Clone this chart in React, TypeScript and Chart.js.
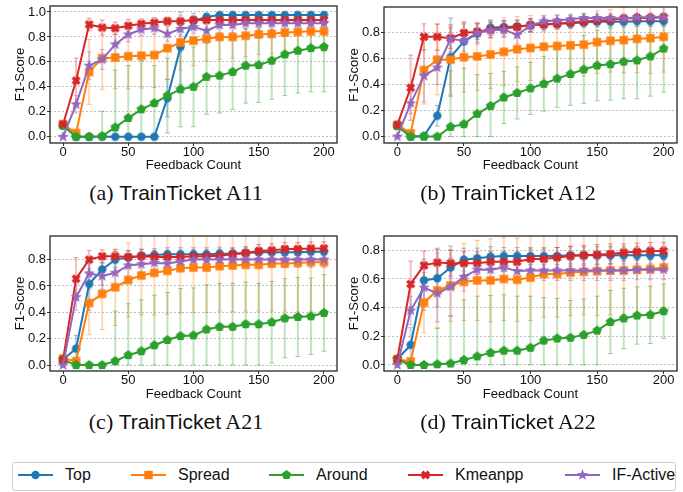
import React, { useEffect, useRef } from 'react';
import { Chart, registerables } from 'chart.js';

Chart.register(...registerables);
Chart.defaults.font.family = "'Liberation Sans', Arial, sans-serif";

// ---------------- data ----------------
const feedbackCounts = [0, 10, 20, 30, 40, 50, 60, 70, 80, 90, 100, 110, 120, 130, 140, 150, 160, 170, 180, 190, 200];
const xTickValues = [0, 50, 100, 150, 200];
const yTicksFull = [0, 0.2, 0.4, 0.6, 0.8, 1.0];
const yTicksShort = [0, 0.2, 0.4, 0.6, 0.8];

const seriesNames = ['Top', 'Spread', 'Around', 'Kmeanpp', 'IF-Active'];
const seriesColors = ['#1f77b4', '#ff7f0e', '#2ca02c', '#d62728', '#9467bd'];
const markerShapes = ['circle', 'square', 'pentagon', 'x', 'star'];

// A11
const a11Top = [0.09, 0.0, 0.0, 0.0, 0.0, 0.0, 0.0, 0.0, 0.31, 0.72, 0.93, 0.96, 0.975, 0.975, 0.975, 0.975, 0.975, 0.975, 0.975, 0.975, 0.975];
const a11Spread = [0.1, 0.03, 0.52, 0.63, 0.635, 0.645, 0.65, 0.655, 0.71, 0.755, 0.77, 0.785, 0.8, 0.8, 0.81, 0.82, 0.825, 0.835, 0.84, 0.845, 0.845];
const a11Around = [0.09, 0.0, 0.0, 0.005, 0.075, 0.15, 0.22, 0.27, 0.33, 0.38, 0.4, 0.48, 0.49, 0.52, 0.57, 0.575, 0.61, 0.66, 0.69, 0.71, 0.72];
const a11Kmeanpp = [0.1, 0.45, 0.9, 0.875, 0.87, 0.89, 0.905, 0.915, 0.925, 0.925, 0.935, 0.935, 0.935, 0.935, 0.935, 0.935, 0.935, 0.935, 0.935, 0.935, 0.935];
const a11IFActive = [0.0, 0.26, 0.57, 0.62, 0.74, 0.82, 0.86, 0.87, 0.825, 0.865, 0.88, 0.85, 0.895, 0.895, 0.91, 0.91, 0.91, 0.91, 0.91, 0.91, 0.91];
const a11TopErr = [0, 0, 0, 0, 0, 0, 0, 0, 0.15, 0.3, 0.06, 0.03, 0.02, 0.02, 0.02, 0.02, 0.02, 0.02, 0.02, 0.02, 0.02];
const a11SpreadErr = [0, 0.02, 0.26, 0.25, 0.25, 0.26, 0.26, 0.26, 0.25, 0.22, 0.2, 0.18, 0.18, 0.17, 0.17, 0.16, 0.16, 0.16, 0.16, 0.16, 0.16];
const a11AroundErr = [0, 0, 0, 0.2, 0.46, 0.42, 0.39, 0.3, 0.3, 0.3, 0.32, 0.3, 0.3, 0.3, 0.3, 0.3, 0.31, 0.33, 0.34, 0.35, 0.36];
const a11KmeanppErr = [0, 0.18, 0.05, 0.06, 0.05, 0.05, 0.04, 0.04, 0.03, 0.03, 0.03, 0.03, 0.03, 0.03, 0.03, 0.03, 0.03, 0.03, 0.03, 0.03, 0.03];
const a11IFActiveErr = [0, 0.07, 0.11, 0.08, 0.08, 0.06, 0.05, 0.05, 0.06, 0.05, 0.05, 0.1, 0.06, 0.06, 0.05, 0.05, 0.05, 0.05, 0.05, 0.05, 0.05];

// A12
const a12Top = [0.09, 0.0, 0.005, 0.16, 0.61, 0.73, 0.79, 0.835, 0.84, 0.845, 0.855, 0.86, 0.865, 0.87, 0.875, 0.88, 0.88, 0.88, 0.885, 0.885, 0.885];
const a12Spread = [0.09, 0.025, 0.51, 0.59, 0.59, 0.61, 0.615, 0.63, 0.65, 0.67, 0.68, 0.69, 0.695, 0.7, 0.705, 0.725, 0.735, 0.74, 0.75, 0.755, 0.765];
const a12Around = [0.08, 0.0, 0.0, 0.0, 0.075, 0.095, 0.175, 0.235, 0.3, 0.335, 0.37, 0.405, 0.445, 0.48, 0.515, 0.545, 0.555, 0.575, 0.585, 0.615, 0.675];
const a12Kmeanpp = [0.09, 0.375, 0.765, 0.765, 0.755, 0.795, 0.805, 0.82, 0.83, 0.84, 0.855, 0.86, 0.865, 0.875, 0.88, 0.89, 0.895, 0.905, 0.91, 0.91, 0.915];
const a12IFActive = [0.0, 0.255, 0.465, 0.53, 0.75, 0.735, 0.795, 0.815, 0.82, 0.78, 0.85, 0.885, 0.89, 0.9, 0.91, 0.91, 0.91, 0.905, 0.915, 0.915, 0.915];
const a12TopErr = [0, 0, 0.01, 0.08, 0.3, 0.15, 0.08, 0.06, 0.05, 0.05, 0.05, 0.05, 0.04, 0.04, 0.04, 0.04, 0.04, 0.04, 0.04, 0.04, 0.04];
const a12SpreadErr = [0, 0.02, 0.26, 0.27, 0.27, 0.27, 0.26, 0.26, 0.26, 0.25, 0.25, 0.24, 0.24, 0.24, 0.24, 0.24, 0.24, 0.25, 0.26, 0.27, 0.27];
const a12AroundErr = [0, 0, 0, 0, 0.43, 0.43, 0.3, 0.25, 0.2, 0.2, 0.2, 0.21, 0.22, 0.24, 0.26, 0.27, 0.275, 0.285, 0.295, 0.305, 0.335];
const a12KmeanppErr = [0, 0.25, 0.1, 0.1, 0.08, 0.07, 0.06, 0.06, 0.06, 0.05, 0.05, 0.04, 0.04, 0.04, 0.03, 0.03, 0.03, 0.03, 0.03, 0.03, 0.03];
const a12IFActiveErr = [0, 0.08, 0.2, 0.13, 0.1, 0.08, 0.07, 0.06, 0.06, 0.07, 0.05, 0.04, 0.04, 0.03, 0.03, 0.03, 0.03, 0.03, 0.03, 0.03, 0.03];

// A21
const a21Top = [0.04, 0.125, 0.615, 0.725, 0.8, 0.815, 0.83, 0.835, 0.84, 0.84, 0.84, 0.84, 0.845, 0.845, 0.85, 0.855, 0.855, 0.855, 0.855, 0.86, 0.86];
const a21Spread = [0.05, 0.03, 0.47, 0.54, 0.59, 0.645, 0.68, 0.7, 0.715, 0.735, 0.74, 0.74, 0.75, 0.755, 0.76, 0.76, 0.77, 0.77, 0.775, 0.78, 0.78];
const a21Around = [0.04, 0.0, 0.0, 0.0, 0.03, 0.075, 0.105, 0.15, 0.19, 0.22, 0.225, 0.27, 0.29, 0.29, 0.31, 0.31, 0.325, 0.355, 0.365, 0.37, 0.395];
const a21Kmeanpp = [0.04, 0.655, 0.8, 0.825, 0.825, 0.82, 0.825, 0.82, 0.82, 0.82, 0.825, 0.825, 0.83, 0.84, 0.85, 0.865, 0.87, 0.88, 0.88, 0.885, 0.885];
const a21IFActive = [0.0, 0.515, 0.695, 0.675, 0.7, 0.755, 0.765, 0.775, 0.77, 0.785, 0.8, 0.8, 0.8, 0.8, 0.8, 0.8, 0.8, 0.8, 0.8, 0.8, 0.8];
const a21TopErr = [0, 0.1, 0.2, 0.12, 0.06, 0.05, 0.05, 0.05, 0.05, 0.05, 0.05, 0.05, 0.05, 0.04, 0.04, 0.04, 0.04, 0.04, 0.04, 0.04, 0.04];
const a21SpreadErr = [0, 0.02, 0.24, 0.27, 0.29, 0.28, 0.3, 0.32, 0.33, 0.34, 0.34, 0.34, 0.34, 0.35, 0.35, 0.35, 0.36, 0.36, 0.37, 0.37, 0.37];
const a21AroundErr = [0, 0, 0, 0, 0.38, 0.39, 0.39, 0.38, 0.36, 0.36, 0.36, 0.34, 0.33, 0.33, 0.32, 0.31, 0.31, 0.3, 0.3, 0.29, 0.29];
const a21KmeanppErr = [0, 0.16, 0.07, 0.05, 0.05, 0.05, 0.05, 0.05, 0.05, 0.05, 0.05, 0.05, 0.05, 0.05, 0.05, 0.05, 0.05, 0.05, 0.05, 0.05, 0.05];
const a21IFActiveErr = [0, 0.1, 0.12, 0.1, 0.1, 0.08, 0.07, 0.07, 0.07, 0.06, 0.06, 0.06, 0.06, 0.06, 0.06, 0.06, 0.06, 0.06, 0.06, 0.06, 0.06];

// A22
const a22Top = [0.04, 0.14, 0.59, 0.605, 0.68, 0.735, 0.745, 0.755, 0.76, 0.76, 0.76, 0.76, 0.76, 0.765, 0.765, 0.765, 0.765, 0.765, 0.765, 0.765, 0.765];
const a22Spread = [0.04, 0.025, 0.435, 0.52, 0.555, 0.58, 0.59, 0.59, 0.6, 0.595, 0.61, 0.635, 0.635, 0.645, 0.65, 0.655, 0.66, 0.66, 0.665, 0.67, 0.68];
const a22Around = [0.04, 0.0, 0.0, 0.005, 0.01, 0.035, 0.06, 0.085, 0.1, 0.1, 0.12, 0.17, 0.185, 0.19, 0.21, 0.24, 0.3, 0.325, 0.345, 0.35, 0.375];
const a22Kmeanpp = [0.04, 0.565, 0.695, 0.715, 0.71, 0.71, 0.71, 0.72, 0.72, 0.72, 0.74, 0.74, 0.75, 0.76, 0.765, 0.77, 0.775, 0.785, 0.79, 0.795, 0.795];
const a22IFActive = [0.0, 0.38, 0.54, 0.5, 0.545, 0.615, 0.665, 0.665, 0.68, 0.655, 0.66, 0.66, 0.66, 0.66, 0.66, 0.66, 0.66, 0.66, 0.665, 0.665, 0.665];
const a22TopErr = [0, 0.12, 0.15, 0.2, 0.15, 0.08, 0.07, 0.07, 0.06, 0.06, 0.06, 0.06, 0.06, 0.06, 0.06, 0.06, 0.06, 0.06, 0.06, 0.06, 0.06];
const a22SpreadErr = [0, 0.02, 0.21, 0.26, 0.25, 0.27, 0.28, 0.29, 0.29, 0.29, 0.3, 0.3, 0.3, 0.3, 0.3, 0.31, 0.31, 0.31, 0.31, 0.31, 0.31];
const a22AroundErr = [0, 0, 0, 0.25, 0.33, 0.42, 0.42, 0.4, 0.39, 0.38, 0.36, 0.3, 0.28, 0.26, 0.25, 0.24, 0.22, 0.21, 0.2, 0.2, 0.19];
const a22KmeanppErr = [0, 0.16, 0.1, 0.1, 0.09, 0.08, 0.08, 0.07, 0.07, 0.07, 0.07, 0.07, 0.07, 0.07, 0.07, 0.07, 0.07, 0.06, 0.06, 0.06, 0.06];
const a22IFActiveErr = [0, 0.1, 0.16, 0.2, 0.2, 0.1, 0.08, 0.07, 0.07, 0.07, 0.07, 0.07, 0.07, 0.07, 0.07, 0.07, 0.07, 0.07, 0.07, 0.07, 0.07];

// ---------------- panel layout ----------------
type PanelSpec = {
  label: string; name: string;
  values: number[][]; errors: number[][];
  yMin: number; yMax: number; yTicks: number[];
  left: number; top: number; w: number; h: number;
  padTop: number; padRight: number; yAxisW: number; xAxisH: number; yTitlePad: number;
  capLeft: number; capWidth: number; capTop: number;
};

const panels: PanelSpec[] = [
  {
    label: '(a)', name: 'A11',
    values: [a11Top, a11Spread, a11Around, a11Kmeanpp, a11IFActive],
    errors: [a11TopErr, a11SpreadErr, a11AroundErr, a11KmeanppErr, a11IFActiveErr],
    yMin: -0.05, yMax: 1.048, yTicks: yTicksFull,
    left: 0, top: 0, w: 342, h: 175, padTop: 6, padRight: 2, yAxisW: 50, xAxisH: 32, yTitlePad: 13,
    capLeft: 0, capWidth: 352, capTop: 180,
  },
  {
    label: '(b)', name: 'A12',
    values: [a12Top, a12Spread, a12Around, a12Kmeanpp, a12IFActive],
    errors: [a12TopErr, a12SpreadErr, a12AroundErr, a12KmeanppErr, a12IFActiveErr],
    yMin: -0.049, yMax: 0.994, yTicks: yTicksShort,
    left: 340, top: 0, w: 343, h: 175, padTop: 7, padRight: 6, yAxisW: 44, xAxisH: 32, yTitlePad: 7,
    capLeft: 340, capWidth: 336, capTop: 180,
  },
  {
    label: '(c)', name: 'A21',
    values: [a21Top, a21Spread, a21Around, a21Kmeanpp, a21IFActive],
    errors: [a21TopErr, a21SpreadErr, a21AroundErr, a21KmeanppErr, a21IFActiveErr],
    yMin: -0.045, yMax: 0.979, yTicks: yTicksShort,
    left: 0, top: 229, w: 342, h: 175, padTop: 7, padRight: 2, yAxisW: 50, xAxisH: 33, yTitlePad: 13,
    capLeft: 0, capWidth: 352, capTop: 409,
  },
  {
    label: '(d)', name: 'A22',
    values: [a22Top, a22Spread, a22Around, a22Kmeanpp, a22IFActive],
    errors: [a22TopErr, a22SpreadErr, a22AroundErr, a22KmeanppErr, a22IFActiveErr],
    yMin: -0.042, yMax: 0.9, yTicks: yTicksShort,
    left: 340, top: 229, w: 343, h: 175, padTop: 7, padRight: 6, yAxisW: 44, xAxisH: 33, yTitlePad: 7,
    capLeft: 340, capWidth: 336, capTop: 409,
  },
];

// ---------------- markers ----------------
function xMarkerPoints(r: number): [number, number][] {
  const t = r * 0.55;
  return [
    [-r + t, -r], [0, -t], [r - t, -r], [r, -r + t], [t, 0], [r, r - t],
    [r - t, r], [0, t], [-r + t, r], [-r, r - t], [-t, 0], [-r, -r + t],
  ];
}

function shapePath(ctx: CanvasRenderingContext2D, shape: string, cx: number, cy: number, r: number) {
  ctx.beginPath();
  if (shape === 'pentagon') {
    for (let i = 0; i < 5; i++) {
      const a = -Math.PI / 2 + (i * 2 * Math.PI) / 5;
      const px = cx + r * Math.cos(a), py = cy + r * Math.sin(a);
      if (i === 0) ctx.moveTo(px, py); else ctx.lineTo(px, py);
    }
  } else if (shape === 'star') {
    for (let i = 0; i < 10; i++) {
      const a = -Math.PI / 2 + (i * Math.PI) / 5;
      const rr = i % 2 === 0 ? r : r * 0.42;
      const px = cx + rr * Math.cos(a), py = cy + rr * Math.sin(a);
      if (i === 0) ctx.moveTo(px, py); else ctx.lineTo(px, py);
    }
  } else if (shape === 'x') {
    xMarkerPoints(r).forEach(([px, py], i) => {
      if (i === 0) ctx.moveTo(cx + px, cy + py); else ctx.lineTo(cx + px, cy + py);
    });
  } else if (shape === 'square') {
    ctx.rect(cx - r, cy - r, 2 * r, 2 * r);
  } else {
    ctx.arc(cx, cy, r, 0, Math.PI * 2);
  }
  ctx.closePath();
}

const markerRadius: Record<string, number> = { circle: 4.2, square: 4.2, pentagon: 5, x: 4.6, star: 6 };

function makeMarker(shape: string, color: string): HTMLCanvasElement {
  const r = markerRadius[shape];
  const size = Math.ceil(r * 2 + 2);
  const c = document.createElement('canvas');
  c.width = size; c.height = size;
  const ctx = c.getContext('2d')!;
  ctx.fillStyle = color;
  shapePath(ctx, shape, size / 2, size / 2, r);
  ctx.fill();
  return c;
}

function withAlpha(hex: string, a: number) {
  const n = parseInt(hex.slice(1), 16);
  return `rgba(${(n >> 16) & 255},${(n >> 8) & 255},${n & 255},${a})`;
}

// ---------------- plugins ----------------
const errorBarsPlugin = {
  id: 'errorBars',
  beforeDatasetsDraw(chart: any) {
    const { ctx, chartArea } = chart;
    const yScale = chart.scales.y;
    ctx.save();
    ctx.beginPath();
    ctx.rect(chartArea.left, chartArea.top, chartArea.right - chartArea.left, chartArea.bottom - chartArea.top);
    ctx.clip();
    chart.data.datasets.forEach((ds: any, i: number) => {
      const meta = chart.getDatasetMeta(i);
      const errs: number[] = ds.errors || [];
      meta.data.forEach((pt: any, j: number) => {
        const v = ds.data[j].y;
        const e = errs[j] || 0;
        if (e <= 0) return;
        const lo = Math.max(0, v - e), hi = Math.min(1, v + e);
        const yl = yScale.getPixelForValue(lo), yh = yScale.getPixelForValue(hi);
        const x = pt.x;
        ctx.strokeStyle = withAlpha(ds.baseColor, 0.3);
        ctx.lineWidth = 2;
        ctx.beginPath(); ctx.moveTo(x, yl); ctx.lineTo(x, yh); ctx.stroke();
        ctx.strokeStyle = withAlpha(ds.baseColor, 0.45);
        ctx.lineWidth = 1;
        ctx.beginPath();
        ctx.moveTo(x - 2.5, yl); ctx.lineTo(x + 2.5, yl);
        ctx.moveTo(x - 2.5, yh); ctx.lineTo(x + 2.5, yh);
        ctx.stroke();
      });
    });
    ctx.restore();
  },
};

const framePlugin = {
  id: 'frame',
  afterDatasetsDraw(chart: any) {
    const { ctx, chartArea } = chart;
    ctx.save();
    ctx.strokeStyle = '#262626';
    ctx.lineWidth = 1.3;
    ctx.strokeRect(chartArea.left, chartArea.top, chartArea.right - chartArea.left, chartArea.bottom - chartArea.top);
    ctx.restore();
  },
};

// ---------------- components ----------------
function Panel({ p }: { p: PanelSpec }) {
  const ref = useRef<HTMLCanvasElement>(null);
  useEffect(() => {
    const canvas = ref.current!;
    const markers = seriesColors.map((c, i) => makeMarker(markerShapes[i], c));
    const chart = new Chart(canvas, {
      type: 'line',
      data: {
        datasets: p.values.map((vals, i) => ({
          label: seriesNames[i],
          data: feedbackCounts.map((x, j) => ({ x, y: vals[j] })),
          errors: p.errors[i],
          baseColor: seriesColors[i],
          borderColor: seriesColors[i],
          backgroundColor: seriesColors[i],
          borderWidth: 2,
          pointStyle: markers[i] as any,
          pointRadius: 5,
          pointBorderWidth: 0,
          tension: 0,
          order: seriesNames.length - i,
          clip: 4,
        })) as any,
      },
      options: {
        responsive: false,
        animation: false,
        devicePixelRatio: 1,
        layout: { padding: { left: 0, top: p.padTop, right: p.padRight, bottom: 0 } },
        plugins: { legend: { display: false }, tooltip: { enabled: false }, title: { display: false } },
        scales: {
          x: {
            type: 'linear', min: -10, max: 210,
            afterBuildTicks: (s: any) => { s.ticks = xTickValues.map((v) => ({ value: v })); },
            afterFit: (s: any) => { s.height = p.xAxisH; s.paddingLeft = 0; s.paddingRight = 0; },
            grid: { display: true, drawOnChartArea: false, drawTicks: true, tickLength: 3, tickColor: '#333', tickWidth: 1 },
            border: { display: false },
            ticks: { font: { size: 13 }, color: '#111', padding: -1, maxRotation: 0, autoSkip: false },
            title: { display: true, text: 'Feedback Count', font: { size: 13 }, color: '#111', padding: { top: 0, bottom: 2 } },
          },
          y: {
            type: 'linear', min: p.yMin, max: p.yMax,
            afterBuildTicks: (s: any) => { s.ticks = p.yTicks.map((v) => ({ value: v })); },
            afterFit: (s: any) => { s.width = p.yAxisW; s.paddingTop = 0; s.paddingBottom = 0; },
            grid: { color: '#b0b0b0', lineWidth: 0.8, drawTicks: true, tickLength: 3, tickColor: '#333', tickWidth: 1, tickBorderDash: [] },
            border: { display: false, dash: [2, 2] },
            ticks: { font: { size: 13 }, color: '#111', padding: 1, callback: (v: any) => Number(v).toFixed(1) },
            title: { display: true, text: 'F1-Score', font: { size: 13 }, color: '#111', padding: { top: p.yTitlePad, bottom: 0 } },
          },
        },
      } as any,
      plugins: [errorBarsPlugin, framePlugin],
    });
    return () => chart.destroy();
  }, []);
  return (
    <canvas
      ref={ref}
      width={p.w}
      height={p.h}
      style={{ position: 'absolute', left: p.left, top: p.top, width: p.w, height: p.h, display: 'block' }}
    />
  );
}

function Caption({ p }: { p: PanelSpec }) {
  return (
    <div
      style={{
        position: 'absolute', left: p.capLeft, top: p.capTop, width: p.capWidth, textAlign: 'center',
        fontSize: 22, lineHeight: '26px', color: '#111', whiteSpace: 'nowrap',
        fontFamily: "'Liberation Serif', 'Times New Roman', serif",
      }}
    >
      {p.label + ' '}
      <span style={{ fontFamily: "'Liberation Sans', Arial, sans-serif", fontSize: 21 }}>TrainTicket</span>
      {' ' + p.name}
    </div>
  );
}

function LegendMarker({ shape, color }: { shape: string; color: string }) {
  const r = markerRadius[shape];
  const cx = 17.5, cy = 8;
  let el: React.ReactNode;
  if (shape === 'circle') el = <circle cx={cx} cy={cy} r={r} fill={color} />;
  else if (shape === 'square') el = <rect x={cx - r} y={cy - r} width={2 * r} height={2 * r} fill={color} />;
  else {
    const pts: string[] = [];
    if (shape === 'pentagon') {
      for (let i = 0; i < 5; i++) { const a = -Math.PI / 2 + (i * 2 * Math.PI) / 5; pts.push(`${cx + r * Math.cos(a)},${cy + r * Math.sin(a)}`); }
    } else if (shape === 'star') {
      for (let i = 0; i < 10; i++) { const a = -Math.PI / 2 + (i * Math.PI) / 5; const rr = i % 2 === 0 ? r : r * 0.42; pts.push(`${cx + rr * Math.cos(a)},${cy + rr * Math.sin(a)}`); }
    } else {
      xMarkerPoints(r).forEach(([x, y]) => pts.push(`${cx + x},${cy + y}`));
    }
    el = <polygon points={pts.join(' ')} fill={color} />;
  }
  return (
    <svg width={35} height={16} style={{ position: 'absolute', left: 0, top: 4 }}>
      <line x1={0} y1={cy} x2={35} y2={cy} stroke={color} strokeWidth={2.2} />
      {el}
    </svg>
  );
}

const legendItemLefts = [5, 118, 256, 395, 552];

function Legend() {
  return (
    <div
      style={{
        position: 'absolute', left: 12, top: 462, width: 664, height: 29, boxSizing: 'border-box',
        border: '1px solid #cccccc', borderRadius: 3, background: '#fff',
        fontFamily: "'Liberation Sans', Arial, sans-serif", fontSize: 16, color: '#111',
      }}
    >
      {seriesNames.map((name, i) => (
        <div key={name} style={{ position: 'absolute', left: legendItemLefts[i], top: 0, height: 27 }}>
          <LegendMarker shape={markerShapes[i]} color={seriesColors[i]} />
          <span style={{ position: 'absolute', left: 47, top: 3, lineHeight: '18px', whiteSpace: 'nowrap' }}>{name}</span>
        </div>
      ))}
    </div>
  );
}

export default function App() {
  return (
    <div style={{ position: 'fixed', left: 0, top: 0, width: 683, height: 492, background: '#fff', overflow: 'hidden' }}>
      {panels.map((p) => (
        <Panel key={p.name} p={p} />
      ))}
      {panels.map((p) => (
        <Caption key={'c' + p.name} p={p} />
      ))}
      <Legend />
    </div>
  );
}
